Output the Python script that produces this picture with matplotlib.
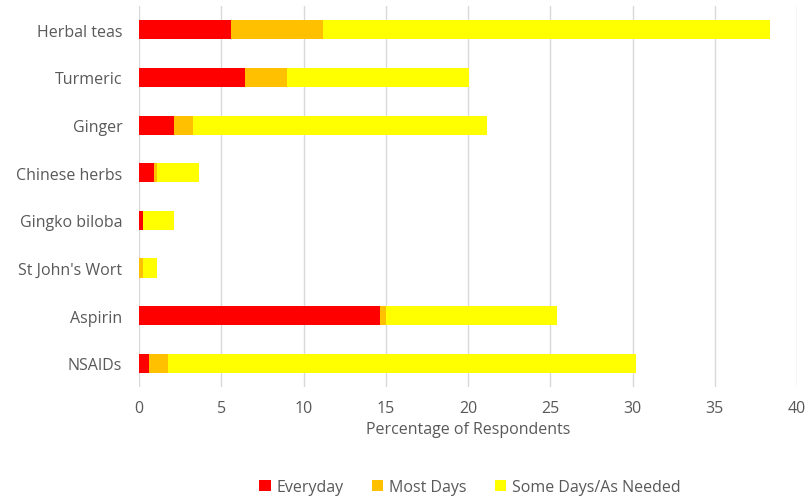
import matplotlib.pyplot as plt
import numpy as np

plt.rcParams['font.family'] = ['Open Sans', 'DejaVu Sans']

# data
categories = ["Herbal teas", "Turmeric", "Ginger", "Chinese herbs",
              "Gingko biloba", "St John's Wort", "Aspirin", "NSAIDs"]
everyday = [5.6, 6.45, 2.11, 0.9, 0.24, 0.0, 14.67, 0.63]
most_days = [5.56, 2.54, 1.18, 0.18, 0.0, 0.24, 0.37, 1.15]
some_days = [27.2, 11.05, 17.86, 2.59, 1.88, 0.86, 10.34, 28.4]

text_col = "#595959"

fig = plt.figure(figsize=(8.06, 5.02), dpi=100)
ax = fig.add_axes([0.1725, 0.227, 0.8165, 0.759])

y = np.arange(len(categories))
e = np.array(everyday)
m = np.array(most_days)
s = np.array(some_days)

ax.barh(y, e, height=0.4, color="#FF0000", label="Everyday", zorder=3)
ax.barh(y, m, height=0.4, left=e, color="#FFC000", label="Most Days", zorder=3)
ax.barh(y, s, height=0.4, left=e + m, color="#FFFF00",
        label="Some Days/As Needed", zorder=3)

ax.set_yticks(y)
ax.set_yticklabels(categories)
ax.set_ylim(len(categories) - 0.5, -0.5)
ax.set_xlim(0, 40)
ax.set_xticks(range(0, 41, 5))

ax.grid(axis="x", color="#D9D9D9", linewidth=1, zorder=0)
for sp in ax.spines.values():
    sp.set_visible(False)
ax.tick_params(axis="both", length=0, colors=text_col, labelsize=11.5)
ax.tick_params(axis="y", pad=12)
ax.tick_params(axis="x", pad=9)

ax.set_xlabel("Percentage of Respondents", color=text_col, fontsize=11.5,
              labelpad=4)

fig.legend(loc="center", bbox_to_anchor=(0.583, 0.028), ncol=3,
           frameon=False, fontsize=11.5, labelcolor=text_col,
           handlelength=0.7, handleheight=0.7, handletextpad=0.35,
           columnspacing=1.8)

fig.savefig("out.png", dpi=100)
